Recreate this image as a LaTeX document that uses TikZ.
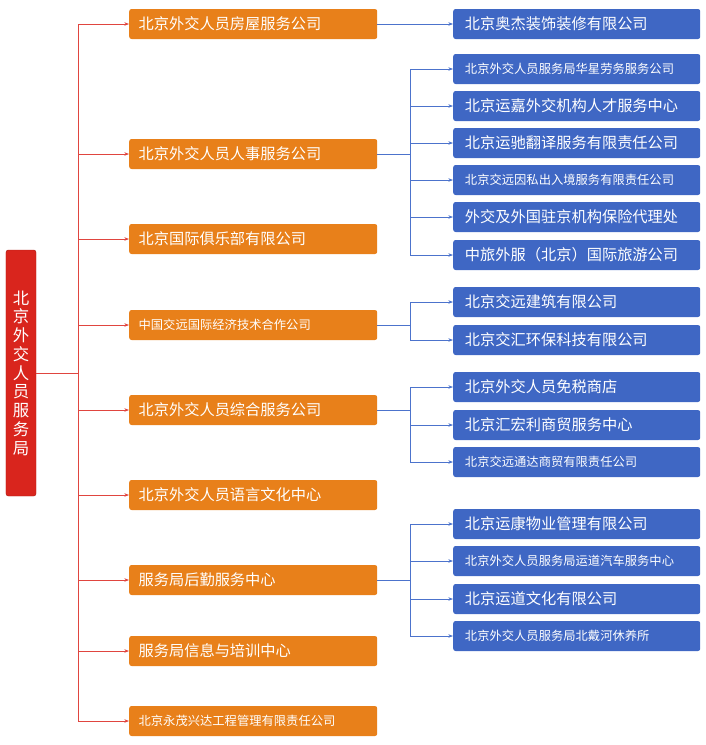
\documentclass[tikz,border=0pt]{standalone}
\usepackage{fontspec}
\setmainfont{Noto Sans CJK SC}
\usetikzlibrary{arrows.meta, positioning}
\definecolor{rootred}{HTML}{D9251D}
\definecolor{unitorange}{HTML}{E8801A}
\definecolor{subblue}{HTML}{3F67C4}
\definecolor{linkred}{HTML}{E0453F}
\definecolor{linkblue}{HTML}{4C73CC}
\begin{document}
\begin{tikzpicture}[x=0.03cm, y=-0.03cm,
  root/.style={draw=rootred!80!black, fill=rootred, rounded corners=2pt, text=white,
               minimum width=0.9cm, minimum height=7.38cm, font=\fontsize{14}{16}\selectfont, align=center, inner sep=0pt},
  unit/.style={fill=unitorange, rounded corners=2pt, text=white, anchor=west,
               minimum width=7.44cm, minimum height=0.9cm, font=\fontsize{13}{15}\selectfont, inner xsep=8pt, text width=7.44cm-16pt},
  sub/.style={fill=subblue, rounded corners=2pt, text=white, anchor=west,
              minimum width=7.41cm, minimum height=0.9cm, font=\fontsize{13}{15}\selectfont, inner xsep=10pt, text width=7.41cm-20pt},
  small/.style={font=\fontsize{10.5}{12}\selectfont},
  trunk/.style={draw=linkred, line width=0.5pt},
  branch/.style={draw=linkblue, line width=0.5pt},
]
  \useasboundingbox (0,0) rectangle (706,745);

  % Root
  \node[root] (root) at (21,373) {北\\京\\外\\交\\人\\员\\服\\务\\局};

  % Orange units
  \node[unit] (u1) at (129,24) {北京外交人员房屋服务公司};
  \node[unit] (u2) at (129,154) {北京外交人员人事服务公司};
  \node[unit] (u3) at (129,239) {北京国际俱乐部有限公司};
  \node[unit, small] (u4) at (129,325) {中国交远国际经济技术合作公司};
  \node[unit] (u5) at (129,410) {北京外交人员综合服务公司};
  \node[unit] (u6) at (129,495) {北京外交人员语言文化中心};
  \node[unit] (u7) at (129,580) {服务局后勤服务中心};
  \node[unit] (u8) at (129,651) {服务局信息与培训中心};
  \node[unit, small] (u9) at (129,721) {北京永茂兴达工程管理有限责任公司};

  % Blue subsidiaries
  \node[sub] (s1) at (453,24) {北京奥杰装饰装修有限公司};
  \node[sub, small] (s2) at (453,69) {北京外交人员服务局华星劳务服务公司};
  \node[sub] (s3) at (453,106) {北京运嘉外交机构人才服务中心};
  \node[sub] (s4) at (453,143) {北京运驰翻译服务有限责任公司};
  \node[sub, small] (s5) at (453,180) {北京交远因私出入境服务有限责任公司};
  \node[sub] (s6) at (453,217) {外交及外国驻京机构保险代理处};
  \node[sub] (s7) at (453,255) {中旅外服（北京）国际旅游公司};
  \node[sub] (s8) at (453,302) {北京交远建筑有限公司};
  \node[sub] (s9) at (453,340) {北京交汇环保科技有限公司};
  \node[sub] (s10) at (453,387) {北京外交人员免税商店};
  \node[sub] (s11) at (453,425) {北京汇宏利商贸服务中心};
  \node[sub, small] (s12) at (453,462) {北京交远通达商贸有限责任公司};
  \node[sub] (s13) at (453,524) {北京运康物业管理有限公司};
  \node[sub, small] (s14) at (453,561) {北京外交人员服务局运道汽车服务中心};
  \node[sub] (s15) at (453,599) {北京运道文化有限公司};
  \node[sub, small] (s16) at (453,636) {北京外交人员服务局北戴河休养所};

  % Root to units
  \coordinate (rj) at (78,373);
  \draw[trunk] (root.east) -- (rj);
  \draw[trunk] (78,24) -- (78,721);
  \foreach \u in {u1,u2,u3,u4,u5,u6,u7,u8,u9}
    \draw[trunk, -{Stealth[length=4pt]}] (78,0 |- \u.west) -- (\u.west);

  % Units to subsidiaries
  \draw[branch, -{Stealth[length=4pt]}] (u1.east) -- (s1.west);
  \foreach \u/\a/\b/\list in {u2/69/255/{s2,s3,s4,s5,s6,s7}, u4/302/340/{s8,s9},
                              u5/387/462/{s10,s11,s12}, u7/524/636/{s13,s14,s15,s16}} {
    \draw[branch] (\u.east) -- (410,0 |- \u.east);
    \draw[branch] (410,\a) -- (410,\b);
    \foreach \s in \list
      \draw[branch, -{Stealth[length=4pt]}] (410,0 |- \s.west) -- (\s.west);
  }
\end{tikzpicture}
\end{document}
